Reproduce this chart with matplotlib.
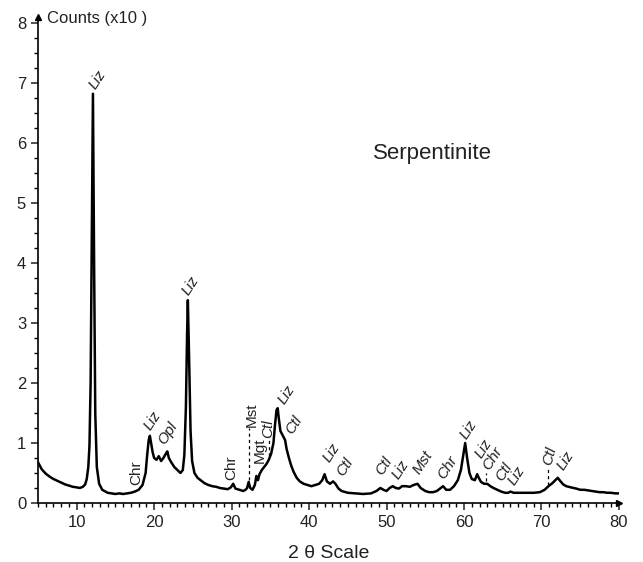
import matplotlib.pyplot as plt
from matplotlib.ticker import MultipleLocator

plt.rcParams['font.family'] = ['Liberation Sans', 'DejaVu Sans']

# diffractogram (2 theta, counts x10)
two_theta = [5.0, 5.5, 6.0, 6.5, 7.0, 7.5, 8.0, 8.5, 9.0, 9.5, 10.0, 10.4, 10.8, 11.1, 11.3, 11.5, 11.65,
             11.8, 11.95, 12.1, 12.25, 12.4, 12.6, 12.9, 13.3, 14.0, 14.5, 15.0, 15.5, 16.0, 16.5, 17.0,
             17.5, 18.0, 18.5, 18.9, 19.1, 19.3, 19.45, 19.6, 19.8, 20.0, 20.3, 20.6, 20.9, 21.2, 21.5,
             21.7, 21.9, 22.2, 22.6, 23.0, 23.4, 23.7, 23.9, 24.1, 24.25, 24.35, 24.5, 24.7, 24.9, 25.2,
             25.6, 26.0, 26.5, 27.0, 27.5, 28.0, 28.5, 29.0, 29.5, 29.9, 30.2, 30.5, 31.0, 31.5, 31.8,
             32.0, 32.2, 32.4, 32.7, 33.0, 33.2, 33.4, 33.6, 33.9, 34.2, 34.5, 34.8, 35.1, 35.4, 35.6,
             35.8, 35.95, 36.1, 36.3, 36.5, 36.7, 36.9, 37.1, 37.4, 37.7, 38.0, 38.4, 38.8, 39.3, 39.8,
             40.3, 40.8, 41.3, 41.7, 42.0, 42.3, 42.7, 43.1, 43.4, 43.8, 44.2, 45.0, 46.0, 47.0, 48.0,
             48.7, 49.2, 49.6, 50.0, 50.4, 50.8, 51.2, 51.6, 52.0, 52.5, 53.0, 53.5, 54.0, 54.4, 55.0,
             55.5, 56.0, 56.5, 57.0, 57.3, 57.7, 58.2, 58.7, 59.2, 59.6, 59.9, 60.15, 60.4, 60.7, 61.0,
             61.4, 61.7, 61.9, 62.2, 62.6, 63.0, 63.4, 63.8, 64.3, 64.8, 65.3, 65.7, 66.0, 66.4, 67.0,
             68.0, 69.0, 69.8, 70.4, 70.9, 71.4, 71.8, 72.1, 72.4, 72.8, 73.2, 73.8, 74.5, 75.0, 75.5,
             76.0, 76.5, 77.0, 77.5, 78.0, 78.5, 79.0, 79.5, 80.0]
counts = [0.68, 0.56, 0.49, 0.44, 0.40, 0.37, 0.34, 0.31, 0.29, 0.27, 0.26, 0.25, 0.27, 0.31, 0.40, 0.60, 0.95,
          2.0, 4.5, 6.82, 4.0, 1.5, 0.6, 0.32, 0.22, 0.17, 0.16, 0.15, 0.16, 0.15, 0.16, 0.17,
          0.19, 0.22, 0.30, 0.50, 0.80, 1.05, 1.12, 1.0, 0.85, 0.75, 0.72, 0.78, 0.70, 0.75, 0.82,
          0.86, 0.75, 0.68, 0.60, 0.55, 0.50, 0.55, 0.80, 1.6, 2.8, 3.38, 2.5, 1.2, 0.70, 0.50,
          0.42, 0.38, 0.33, 0.30, 0.28, 0.27, 0.25, 0.24, 0.23, 0.26, 0.32, 0.24, 0.22, 0.20, 0.22,
          0.25, 0.35, 0.25, 0.22, 0.30, 0.45, 0.38, 0.48, 0.55, 0.60, 0.65, 0.72, 0.82, 1.0, 1.3,
          1.55, 1.58, 1.4, 1.2, 1.15, 1.10, 1.05, 0.90, 0.75, 0.62, 0.52, 0.42, 0.36, 0.32, 0.30,
          0.28, 0.30, 0.32, 0.38, 0.48, 0.36, 0.32, 0.36, 0.32, 0.24, 0.20, 0.17, 0.16, 0.15, 0.16,
          0.20, 0.25, 0.22, 0.20, 0.25, 0.28, 0.25, 0.24, 0.28, 0.28, 0.27, 0.30, 0.32, 0.25, 0.20,
          0.18, 0.18, 0.20, 0.25, 0.28, 0.22, 0.22, 0.28, 0.38, 0.55, 0.80, 1.0, 0.75, 0.50, 0.40,
          0.38, 0.48, 0.42, 0.35, 0.32, 0.32, 0.28, 0.25, 0.22, 0.19, 0.17, 0.17, 0.19, 0.17, 0.17,
          0.17, 0.17, 0.18, 0.22, 0.28, 0.33, 0.38, 0.42, 0.37, 0.31, 0.28, 0.26, 0.24, 0.22, 0.22,
          0.21, 0.20, 0.19, 0.18, 0.18, 0.17, 0.17, 0.16, 0.16]

# phase labels: text, x, y, rotation, italic
lab_text = ['Liz', 'Chr', 'Liz', 'Opl', 'Liz', 'Chr', 'Mst', 'Mgt', 'Ctl', 'Liz', 'Ctl', 'Liz', 'Ctl',
            'Ctl', 'Liz', 'Mst', 'Chr', 'Liz', 'Liz', 'Chr', 'Ctl', 'Liz', 'Ctl', 'Liz']
lab_x = [12.7, 17.7, 19.8, 21.7, 24.8, 30.0, 32.6, 33.6, 34.7, 37.1, 38.1, 43.0, 44.7,
         49.7, 51.9, 54.6, 57.8, 60.7, 62.6, 63.6, 65.2, 66.9, 71.6, 73.2]
lab_y = [6.85, 0.3, 1.18, 0.93, 3.42, 0.38, 1.27, 0.67, 1.08, 1.6, 1.1, 0.64, 0.4,
         0.42, 0.35, 0.44, 0.35, 1.02, 0.7, 0.5, 0.33, 0.26, 0.6, 0.5]
lab_rot = [57, 90, 57, 57, 57, 90, 90, 90, 90, 57, 57, 57, 57,
           57, 57, 57, 57, 57, 57, 57, 57, 57, 75, 57]
lab_italic = [1, 0, 1, 1, 1, 0, 0, 0, 1, 1, 1, 1, 1,
              1, 1, 1, 1, 1, 1, 1, 1, 1, 1, 1]

# dashed leader lines
dash_x = [32.2, 34.8, 62.9, 70.9]
dash_y0 = [0.38, 0.78, 0.36, 0.30]
dash_y1 = [1.25, 1.05, 0.50, 0.60]

fig = plt.figure(figsize=(6.43, 5.62), dpi=100)
ax = fig.add_axes([0.059, 0.105, 0.9036, 0.8648])

ax.plot(two_theta, counts, color='black', lw=1.8)
ax.vlines(dash_x, dash_y0, dash_y1, colors='black', linestyles=(0, (2.5, 2.5)), lw=0.9)

for t, x, y, r, it in zip(lab_text, lab_x, lab_y, lab_rot, lab_italic):
    if r == 90:
        ax.text(x, y, t, rotation=90, ha='center', va='bottom', fontsize=11,
                style='italic' if it else 'normal', color='#222222')
    else:
        ax.text(x, y, t, rotation=r, rotation_mode='anchor', ha='left', va='bottom',
                fontsize=11, style='italic' if it else 'normal', color='#222222')

ax.text(48.2, 5.83, 'Serpentinite', fontsize=16, va='center', color='#222222')
fig.text(47 / 643, 1 - 18 / 562, 'Counts (x10 )', fontsize=12, va='center', color='#222222')

ax.set_xlim(5, 80)
ax.set_ylim(0, 8.1)
ax.xaxis.set_major_locator(MultipleLocator(10))
ax.xaxis.set_minor_locator(MultipleLocator(1))
ax.yaxis.set_major_locator(MultipleLocator(1))
ax.yaxis.set_minor_locator(MultipleLocator(0.25))
ax.tick_params(which='major', direction='out', length=5, width=1.1, labelsize=12, colors='#222222')
ax.tick_params(which='minor', direction='out', length=3, width=1.0)
ax.set_xlabel('2 θ Scale', fontsize=14, color='#222222', labelpad=11)

for s in ['top', 'right']:
    ax.spines[s].set_visible(False)
for s in ['left', 'bottom']:
    ax.spines[s].set_linewidth(1.2)

# small arrow heads on the axes
ax.plot(1, 0, '>', color='black', ms=4, transform=ax.transAxes, clip_on=False)
ax.plot(0, 1, '^', color='black', ms=4, transform=ax.transAxes, clip_on=False)

fig.savefig('out.png', dpi=100)
